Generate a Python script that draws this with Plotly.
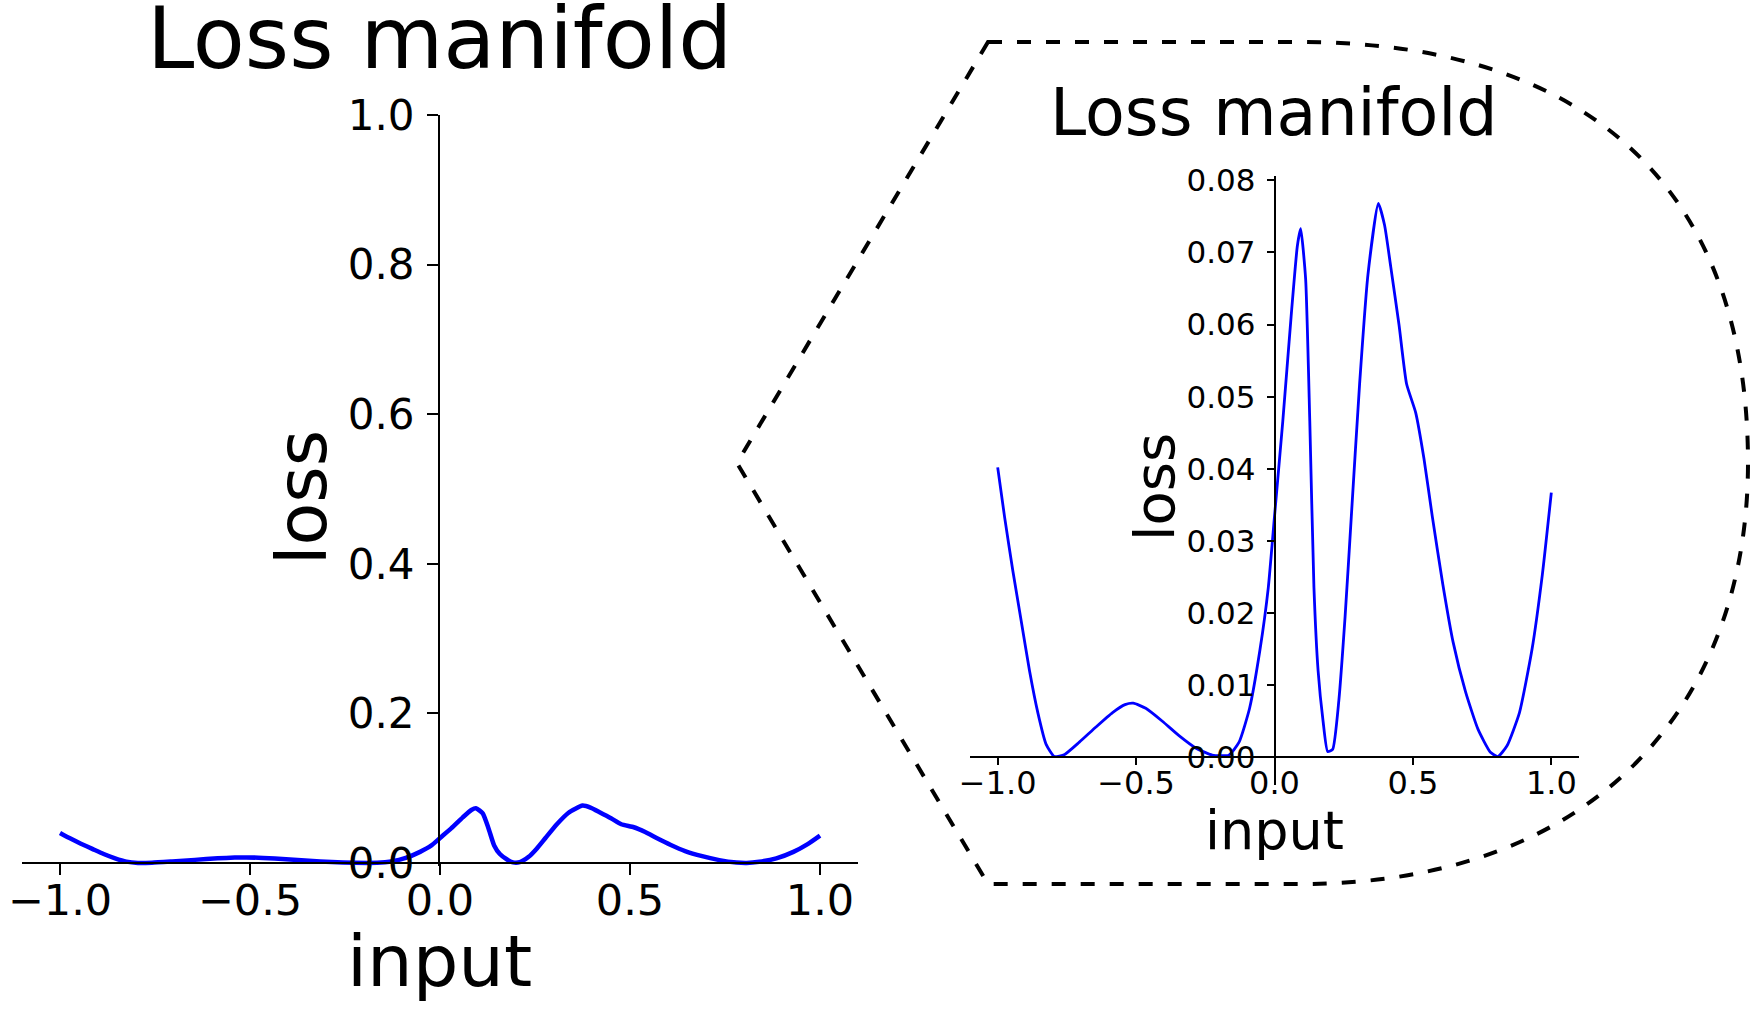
import plotly.graph_objects as go

W, H = 1751, 1010

# loss curve
inputs = [-1.0, -0.975, -0.945, -0.915, -0.885, -0.855, -0.825, -0.795, -0.758, -0.705,
          -0.645, -0.585, -0.54, -0.51, -0.465, -0.405, -0.345, -0.285, -0.225, -0.165,
          -0.128, -0.09, -0.0525, -0.0225, 0.0, 0.03, 0.06, 0.0825, 0.0945, 0.1125,
          0.1275, 0.1425, 0.1575, 0.1755, 0.192, 0.21, 0.2325, 0.255, 0.2775, 0.3075,
          0.3375, 0.375, 0.3975, 0.42, 0.45, 0.477, 0.51, 0.54, 0.57, 0.6075,
          0.645, 0.69, 0.735, 0.78, 0.807, 0.84, 0.885, 0.93, 0.9675, 1.0]
losses = [0.0402, 0.0333, 0.0258, 0.0189, 0.0120, 0.0062, 0.0018, 0.0001, 0.0004, 0.0021,
          0.0042, 0.0062, 0.0073, 0.0075, 0.0068, 0.0050, 0.0030, 0.0013, 0.0003, 0.0003,
          0.0021, 0.0068, 0.0149, 0.0235, 0.0334, 0.0466, 0.0611, 0.0709, 0.0733, 0.0663,
          0.0466, 0.0235, 0.0120, 0.0050, 0.0008, 0.0011, 0.0079, 0.0195, 0.0334, 0.0518,
          0.0669, 0.0768, 0.0738, 0.0680, 0.0599, 0.0518, 0.0478, 0.0414, 0.0334, 0.0241,
          0.0160, 0.0091, 0.0039, 0.0007, 0.0001, 0.0016, 0.0062, 0.0149, 0.0253, 0.0367]

x_ticks = [-1.0, -0.5, 0.0, 0.5, 1.0]
x_ticktext = ["\u22121.0", "\u22120.5", "0.0", "0.5", "1.0"]
y_ticks_full = [0.0, 0.2, 0.4, 0.6, 0.8, 1.0]
y_ticks_zoom = [0.0, 0.01, 0.02, 0.03, 0.04, 0.05, 0.06, 0.07, 0.08]

FONT = "DejaVu Sans"


def px(x):
    return x / W


def py(y):
    return 1 - y / H


def axis(domain, rng, pos, size, lw, tlen, standoff, **kw):
    return dict(domain=domain, range=rng, anchor="free", position=pos,
                showline=True, linecolor="black", linewidth=lw,
                ticks="outside", ticklen=tlen, tickwidth=lw, tickcolor="black",
                ticklabelstandoff=standoff, ticklabeloverflow="allow",
                showgrid=False, zeroline=False, automargin=False,
                tickfont=dict(family=FONT, size=size, color="black"), **kw)


fig = go.Figure()
fig.add_trace(go.Scatter(x=inputs, y=losses, mode="lines",
                         line=dict(color="#0000ff", width=4.5, shape="spline", smoothing=0.5),
                         xaxis="x", yaxis="y", cliponaxis=False))
fig.add_trace(go.Scatter(x=inputs, y=losses, mode="lines",
                         line=dict(color="#0000ff", width=2.8, shape="spline", smoothing=0.5),
                         xaxis="x2", yaxis="y2", cliponaxis=False))

fig.update_layout(
    template="none",
    width=W, height=H,
    margin=dict(l=0, r=0, t=0, b=0, pad=0),
    paper_bgcolor="white", plot_bgcolor="white",
    showlegend=False,
    xaxis=axis([px(22), px(858)], [-1.1, 1.1], py(863), 43, 2, 11, -12,
               tickvals=x_ticks, ticktext=x_ticktext),
    yaxis=axis([py(866), py(115)], [-0.004, 1.0], px(439), 42, 2, 11, 4,
               tickvals=y_ticks_full, ticktext=["%.1f" % v for v in y_ticks_full]),
    xaxis2=axis([px(970), px(1579)], [-1.1, 1.1], py(757), 32, 1.5, 7, -9,
                tickvals=x_ticks, ticktext=x_ticktext),
    yaxis2=axis([py(785), py(176)], [-0.00384, 0.0806], px(1274.5), 31, 1.5, 7, 5,
                tickvals=y_ticks_zoom, ticktext=["%.2f" % v for v in y_ticks_zoom]),
)

# titles and axis labels
labels = [
    ("Loss manifold", 440, 38, 85, 0),
    ("input", 440, 961, 72, 0),
    ("loss", 302, 498, 70, -90),
    ("Loss manifold", 1274, 113, 65, 0),
    ("input", 1274, 830, 54, 0),
    ("loss", 1154, 487, 56, -90),
]
for text, x, y, size, ang in labels:
    fig.add_annotation(text=text, x=px(x), y=py(y), xref="paper", yref="paper",
                       xanchor="center", yanchor="middle", showarrow=False,
                       textangle=ang, font=dict(family=FONT, size=size, color="black"))

# dashed callout around the zoomed panel
path = (f"M {px(988)},{py(42)} L {px(1300)},{py(42)} "
        f"C {px(1600)},{py(42)} {px(1748)},{py(200)} {px(1748)},{py(463)} "
        f"C {px(1748)},{py(700)} {px(1600)},{py(884)} {px(1300)},{py(884)} "
        f"L {px(988)},{py(884)} L {px(737)},{py(463)} Z")
fig.add_shape(type="path", path=path, xref="paper", yref="paper",
              line=dict(color="black", width=4, dash="14px,15px"))

fig.write_html("out.html", config={"displayModeBar": False},
               post_script="document.body.style.margin='0';document.body.style.overflow='hidden';")
